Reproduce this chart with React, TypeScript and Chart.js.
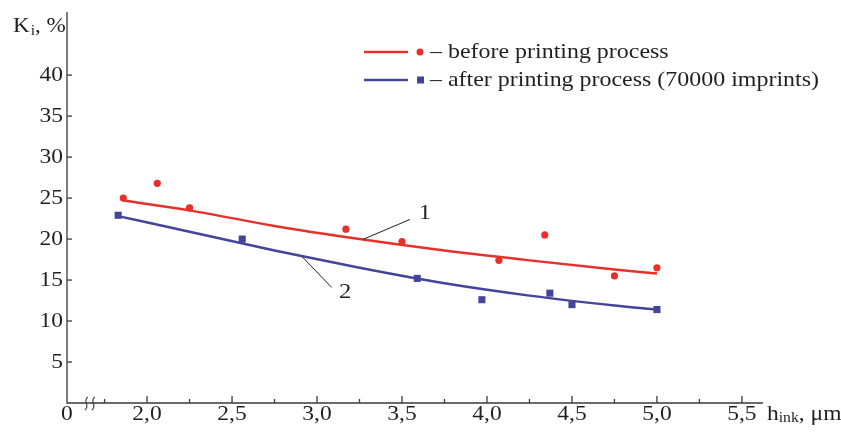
import React, { useEffect, useRef } from 'react';
import { Chart, registerables } from 'chart.js';

Chart.register(...registerables);

// ---- data ----
const beforeX = [1.86, 2.06, 2.25, 3.17, 3.5, 4.07, 4.34, 4.75, 5.0];
const beforeY = [25.0, 26.8, 23.8, 21.2, 19.7, 17.4, 20.5, 15.5, 16.5];
const afterX = [1.83, 2.56, 3.59, 3.97, 4.37, 4.5, 5.0];
const afterY = [22.9, 20.0, 15.2, 12.6, 13.4, 12.0, 11.4];

const beforeFitX = [1.86, 2.25, 2.75, 3.25, 3.75, 4.25, 4.75, 5.0];
const beforeFitY = [24.7, 23.5, 21.6, 20.0, 18.6, 17.4, 16.3, 15.8];
const afterFitX = [1.83, 2.25, 2.75, 3.25, 3.75, 4.25, 4.75, 5.0];
const afterFitY = [22.8, 20.9, 18.6, 16.5, 14.6, 13.1, 11.9, 11.4];

// ---- ticks ----
const xMajorTicks = [2.0, 2.5, 3.0, 3.5, 4.0, 4.5, 5.0, 5.5];
const xMinorTicks = [1.75, 2.25, 2.75, 3.25, 3.75, 4.25, 4.75, 5.25];
const xTickLabels = ['2,0', '2,5', '3,0', '3,5', '4,0', '4,5', '5,0', '5,5'];
const yTicks = [5, 10, 15, 20, 25, 30, 35, 40];
const yTickLabels = ['5', '10', '15', '20', '25', '30', '35', '40'];

const legendLabels = ['– before printing process', '– after printing process (70000 imprints)'];
const curveLabels = ['1', '2'];
// leader lines: [startX, startY, endX, endY, labelX, labelY] in data units
const curveLabelAnchors = [
  [3.27, 19.95, 3.547, 22.4, 3.635, 23.1],
  [2.91, 17.9, 3.086, 14.1, 3.165, 13.5],
];
const yLabelMain = 'K';
const yLabelSub = 'i';
const yLabelRest = ', %';
const xLabelMain = 'h';
const xLabelSub = 'ink';
const xLabelRest = ', μm';
const originLabel = '0';

const RED = '#e8302a';
const BLUE = '#45449b';
const INK = '#231f20';
const AXIS = '#3a3a3a';
const FONT = '"Liberation Serif"';
const SX = 1.12;

function drawText(ctx: CanvasRenderingContext2D, s: string, x: number, y: number, align: string, size: number, sx = SX) {
  ctx.save();
  ctx.font = `${size}px ${FONT}`;
  ctx.textBaseline = 'middle';
  ctx.textAlign = 'left';
  ctx.fillStyle = INK;
  const w = ctx.measureText(s).width * sx;
  const left = align === 'center' ? x - w / 2 : align === 'right' ? x - w : x;
  ctx.translate(left, y);
  ctx.scale(sx, 1);
  ctx.fillText(s, 0, 0);
  ctx.restore();
  return w;
}

const decor = {
  id: 'decor',
  afterDraw(chart: any) {
    const ctx: CanvasRenderingContext2D = chart.ctx;
    const xs = chart.scales.x;
    const ys = chart.scales.y;
    const { left, right, top, bottom } = chart.chartArea;
    ctx.save();
    // axes
    ctx.strokeStyle = AXIS;
    ctx.lineWidth = 1.3;
    ctx.beginPath();
    ctx.moveTo(left, top);
    ctx.lineTo(left, bottom);
    ctx.lineTo(right, bottom);
    ctx.stroke();

    // y ticks + labels
    ys.ticks.forEach((t: any, i: number) => {
      const py = ys.getPixelForValue(t.value);
      ctx.beginPath();
      ctx.moveTo(left, py);
      ctx.lineTo(left + 5, py);
      ctx.stroke();
      drawText(ctx, yTickLabels[i], left - 4, py, 'right', 21);
    });

    // x ticks + labels
    xs.ticks.forEach((t: any) => {
      const v = t.value;
      const px = xs.getPixelForValue(v);
      const mi = xMajorTicks.indexOf(v);
      ctx.beginPath();
      ctx.moveTo(px, bottom);
      ctx.lineTo(px, bottom - (mi >= 0 ? 7 : 4));
      ctx.stroke();
      if (mi >= 0) drawText(ctx, xTickLabels[mi], px, bottom + 11, 'center', 21);
    });
    drawText(ctx, originLabel, left, bottom + 11, 'center', 21);

    // axis break symbol
    ctx.lineWidth = 1.1;
    const bx = xs.getPixelForValue(1.64);
    [0, 7].forEach((dx) => {
      ctx.beginPath();
      ctx.moveTo(bx + dx + 2, bottom - 6);
      ctx.bezierCurveTo(bx + dx - 4, bottom - 2, bx + dx + 5, bottom + 3, bx + dx - 1, bottom + 7);
      ctx.stroke();
    });

    // axis titles
    let cx = 13;
    cx += drawText(ctx, yLabelMain, cx, 26, 'left', 22, 1.05);
    cx += drawText(ctx, yLabelSub, cx + 1, 31, 'left', 15, 1.05) + 1;
    drawText(ctx, yLabelRest, cx, 26, 'left', 22, 1.05);

    let hx = right + 4;
    hx += drawText(ctx, xLabelMain, hx, bottom + 11, 'left', 21);
    hx += drawText(ctx, xLabelSub, hx, bottom + 15, 'left', 14);
    drawText(ctx, xLabelRest, hx, bottom + 11, 'left', 21);

    // legend
    const legendColors = [RED, BLUE];
    const ly = [52, 80];
    legendLabels.forEach((lab, i) => {
      const y = ly[i];
      ctx.strokeStyle = legendColors[i];
      ctx.lineWidth = 2.5;
      ctx.beginPath();
      ctx.moveTo(364, y);
      ctx.lineTo(408, y);
      ctx.stroke();
      ctx.fillStyle = legendColors[i];
      if (i === 0) {
        ctx.beginPath();
        ctx.arc(420, y, 3.5, 0, Math.PI * 2);
        ctx.fill();
      } else {
        ctx.fillRect(417, y - 3.5, 7, 7);
      }
      drawText(ctx, lab, 430, y, 'left', 21, 1.14);
    });

    // curve labels with leader lines
    ctx.strokeStyle = INK;
    ctx.lineWidth = 1;
    curveLabels.forEach((lab, i) => {
      const a = curveLabelAnchors[i];
      ctx.beginPath();
      ctx.moveTo(xs.getPixelForValue(a[0]), ys.getPixelForValue(a[1]));
      ctx.lineTo(xs.getPixelForValue(a[2]), ys.getPixelForValue(a[3]));
      ctx.stroke();
      drawText(ctx, lab, xs.getPixelForValue(a[4]), ys.getPixelForValue(a[5]), 'center', 22);
    });
    ctx.restore();
  },
};

export default function App() {
  const ref = useRef<HTMLCanvasElement | null>(null);
  useEffect(() => {
    const canvas = ref.current;
    if (!canvas) return;
    const chart = new Chart(canvas, {
      type: 'scatter',
      data: {
        datasets: [
          {
            label: 'fit before',
            data: beforeFitX.map((x, i) => ({ x, y: beforeFitY[i] })),
            showLine: true,
            borderColor: RED,
            borderWidth: 2.5,
            pointRadius: 0,
            cubicInterpolationMode: 'monotone',
          },
          {
            label: 'fit after',
            data: afterFitX.map((x, i) => ({ x, y: afterFitY[i] })),
            showLine: true,
            borderColor: BLUE,
            borderWidth: 2.5,
            pointRadius: 0,
            cubicInterpolationMode: 'monotone',
          },
          {
            label: 'before',
            data: beforeX.map((x, i) => ({ x, y: beforeY[i] })),
            pointRadius: 3.6,
            pointBackgroundColor: RED,
            pointBorderWidth: 0,
            showLine: false,
          },
          {
            label: 'after',
            data: afterX.map((x, i) => ({ x, y: afterY[i] })),
            pointStyle: 'rect',
            pointRadius: 5,
            pointBackgroundColor: BLUE,
            pointBorderWidth: 0,
            showLine: false,
          },
        ],
      } as any,
      options: {
        responsive: false,
        animation: false,
        events: [],
        layout: { padding: { left: 67, top: 12, right: 78, bottom: 35 } },
        plugins: { legend: { display: false }, tooltip: { enabled: false } },
        scales: {
          x: {
            type: 'linear',
            display: false,
            min: 1.529,
            max: 5.624,
            afterBuildTicks: (scale: any) => {
              scale.ticks = [...xMinorTicks, ...xMajorTicks].sort((a, b) => a - b).map((value) => ({ value }));
            },
          },
          y: {
            type: 'linear',
            display: false,
            min: 0,
            max: 47.7,
            afterBuildTicks: (scale: any) => {
              scale.ticks = yTicks.map((value) => ({ value }));
            },
          },
        },
      } as any,
      plugins: [decor],
    });
    return () => chart.destroy();
  }, []);
  return (
    <div style={{ position: 'fixed', left: 0, top: 0, width: 841, height: 438, background: '#fff' }}>
      <canvas ref={ref} width={841} height={438} style={{ width: 841, height: 438, display: 'block' }} />
    </div>
  );
}
